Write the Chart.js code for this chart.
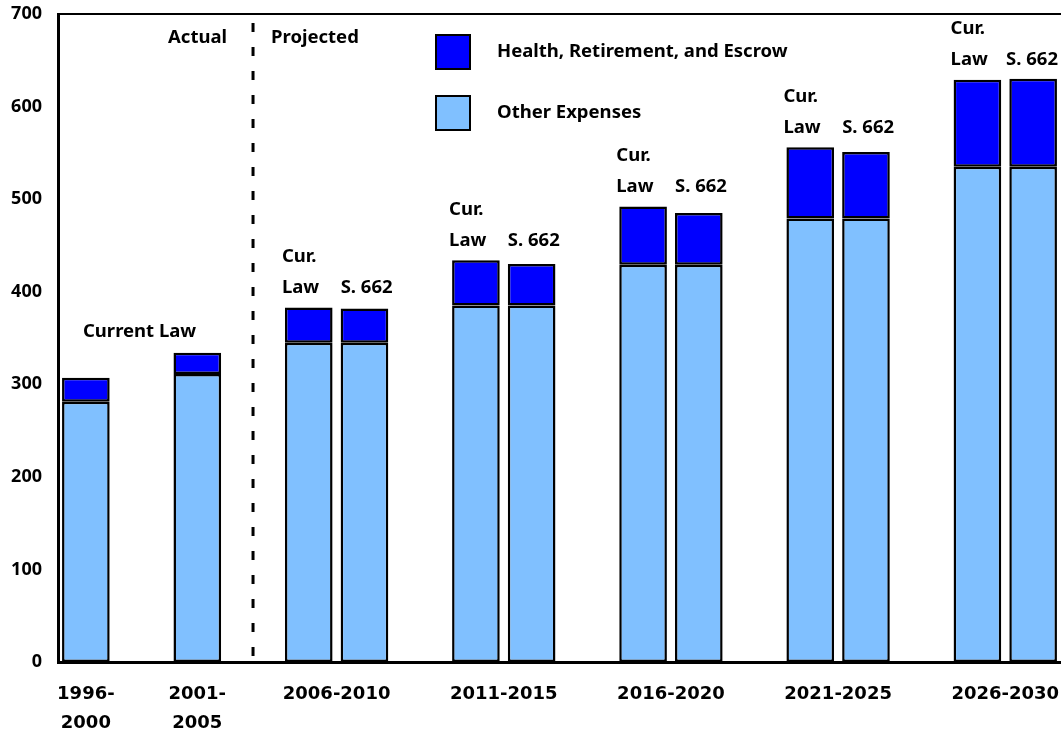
<!DOCTYPE html>
<html lang="en">
<head>
  <meta charset="UTF-8" />
  <title>Current Law vs S. 662</title>
  <style>
    body { margin: 0; background: #fff; }
    #wrap { position: relative; width: 1061px; height: 731px; }
  </style>
</head>
<body>
  <div id="wrap"><canvas id="chart"></canvas></div>

  <script src="https://cdn.jsdelivr.net/npm/chart.js"></script>
  <script>
    // x slot of every bar (one slot per bar, empty slots between groups)
    const barSlots = [0, 2, 4, 5, 7, 8, 10, 11, 13, 14, 16, 17];
    const otherExpenses = [281, 311, 345, 345, 385, 385, 429, 429, 479, 479, 535, 535];
    const healthRetEscrow = [26, 23, 38, 37, 49, 45, 63, 56, 77, 72, 94, 95];

    // group labels under the axis and where they sit
    const groupLabels = [['1996-', '2000'], ['2001-', '2005'], '2006-2010', '2011-2015', '2016-2020', '2021-2025', '2026-2030'];
    const groupSlots = [0, 2, 4.5, 7.5, 10.5, 13.5, 16.5];
    // index of the "Cur. Law" bar in each projected pair
    const pairStarts = [2, 4, 6, 8, 10];
    const yTicks = [0, 100, 200, 300, 400, 500, 600, 700];
    const dividerSlot = 3;

    const DARK = '#0000FF';
    const LIGHT = '#80C0FF';
    const LABEL_FONT = 'bold 18.5px "Noto Sans", sans-serif';

    const annotations = {
      id: 'annotations',
      afterDraw(chart) {
        const ctx = chart.ctx;
        const xs = chart.scales.x, ys = chart.scales.y;
        const area = chart.chartArea;
        ctx.save();

        // top frame line
        ctx.strokeStyle = '#000';
        ctx.lineWidth = 2;
        ctx.beginPath();
        ctx.moveTo(area.left, area.top);
        ctx.lineTo(chart.width, area.top);
        ctx.stroke();

        // Actual / Projected divider
        const dx = xs.getPixelForValue(dividerSlot);
        ctx.lineWidth = 3;
        ctx.setLineDash([9, 15]);
        ctx.beginPath();
        ctx.moveTo(dx, area.top + 9);
        ctx.lineTo(dx, area.bottom - 2);
        ctx.stroke();
        ctx.setLineDash([]);

        ctx.fillStyle = '#000';
        ctx.font = LABEL_FONT;
        ctx.textBaseline = 'middle';
        ctx.textAlign = 'right';
        ctx.fillText('Actual', dx - 26, area.top + 24);
        ctx.textAlign = 'left';
        ctx.fillText('Projected', dx + 18, area.top + 24);

        // "Current Law" over the actual bars
        ctx.textAlign = 'center';
        const clTop = ys.getPixelForValue(otherExpenses[1] + healthRetEscrow[1]);
        ctx.fillText('Current Law', (xs.getPixelForValue(barSlots[0]) + xs.getPixelForValue(barSlots[1])) / 2 - 2, clTop - 21);

        // Cur. Law / S. 662 labels over each pair
        const meta = chart.getDatasetMeta(1);
        ctx.textAlign = 'left';
        pairStarts.forEach(i => {
          const bar = meta.data[i], bar2 = meta.data[i + 1];
          const left = bar.x - bar.width / 2 - 3;
          const lawY = bar.y - 20;
          ctx.fillText('Cur.', left, lawY - 31);
          ctx.fillText('Law', left, lawY);
          let sx = bar2.x - bar2.width / 2;
          const w = ctx.measureText('S. 662').width;
          if (sx + w > chart.width - 3) sx = chart.width - 3 - w;
          ctx.fillText('S. 662', sx, lawY);
        });

        // legend
        const items = [[DARK, 'Health, Retirement, and Escrow'], [LIGHT, 'Other Expenses']];
        items.forEach((it, k) => {
          const y = area.top + 21 + k * 61;
          ctx.fillStyle = it[0];
          ctx.fillRect(378 + area.left, y, 34, 34);
          ctx.strokeStyle = '#000';
          ctx.lineWidth = 2;
          ctx.strokeRect(378 + area.left, y, 34, 34);
          ctx.fillStyle = '#000';
          ctx.fillText(it[1], 439 + area.left, y + 17);
        });

        ctx.restore();
      }
    };

    const barData = arr => arr.map((v, i) => ({ x: barSlots[i], y: v }));

    new Chart(document.getElementById('chart').getContext('2d'), {
      type: 'bar',
      data: {
        datasets: [
          {
            label: 'Other Expenses',
            data: barData(otherExpenses),
            backgroundColor: LIGHT,
            borderColor: '#000',
            borderWidth: 2.5,
            borderSkipped: false,
            categoryPercentage: 1,
            barPercentage: 0.855
          },
          {
            label: 'Health, Retirement, and Escrow',
            data: barData(healthRetEscrow),
            backgroundColor: DARK,
            borderColor: '#000',
            borderWidth: 2.5,
            borderSkipped: false,
            categoryPercentage: 1,
            barPercentage: 0.855
          }
        ]
      },
      options: {
        responsive: true,
        maintainAspectRatio: false,
        animation: false,
        layout: { padding: { top: 14, right: 0, left: 0, bottom: 0 } },
        plugins: { legend: { display: false }, tooltip: { enabled: false } },
        scales: {
          x: {
            type: 'linear',
            stacked: true,
            offset: false,
            min: -0.5,
            max: 17.5,
            grid: { display: false, drawTicks: false, offset: false },
            border: { display: true, color: '#000', width: 3 },
            afterBuildTicks: axis => { axis.ticks = groupSlots.map(v => ({ value: v })); },
            afterFit: axis => {
              axis.height = 69;
              axis.paddingLeft = 0;
              axis.paddingRight = 0;
            },
            ticks: {
              autoSkip: false,
              maxRotation: 0,
              padding: 17,
              color: '#000',
              font: { family: '"DejaVu Sans"', weight: 'bold', size: 18, lineHeight: 1.65 },
              callback: (v, i) => groupLabels[i]
            }
          },
          y: {
            stacked: true,
            min: 0,
            max: 700,
            grid: { display: false, drawTicks: false },
            border: { display: true, color: '#000', width: 3 },
            afterBuildTicks: axis => { axis.ticks = yTicks.map(v => ({ value: v })); },
            afterFit: axis => {
              axis.width = 58;
              axis.paddingTop = 0;
              axis.paddingBottom = 0;
            },
            ticks: {
              padding: 16,
              color: '#000',
              font: { family: '"Noto Sans"', weight: 'bold', size: 18 }
            }
          }
        }
      },
      plugins: [annotations]
    });
  </script>
</body>
</html>
